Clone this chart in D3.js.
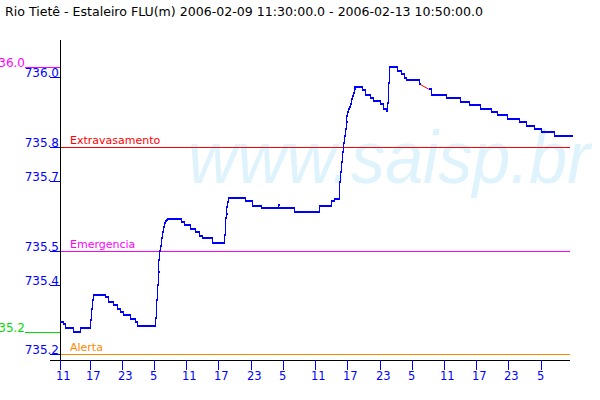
<!DOCTYPE html>
<html><head><meta charset="utf-8">
<script src="https://cdn.jsdelivr.net/npm/d3@7"></script>
<style>body{margin:0;background:#fff}svg{display:block}</style>
</head><body><svg id="c" width="600" height="400"></svg>
<script>
const titleText = "Rio Tietê - Estaleiro FLU(m) 2006-02-09 11:30:00.0 - 2006-02-13 10:50:00.0";
const watermarkText = "www.saisp.br";
const periodStart = "2006-02-09 11:30";
const periodEnd = "2006-02-13 10:50";
const yDomain = [735.184, 736.108];

const times = [
 "2006-02-09 11:30","2006-02-09 12:00","2006-02-09 12:30","2006-02-09 14:00","2006-02-09 15:10",
 "2006-02-09 17:10","2006-02-09 17:20","2006-02-09 17:30","2006-02-09 17:40","2006-02-09 19:50",
 "2006-02-09 20:30","2006-02-09 21:20","2006-02-09 22:10","2006-02-09 22:40","2006-02-09 23:10",
 "2006-02-10 00:30","2006-02-10 01:30","2006-02-10 01:50","2006-02-10 05:10","2006-02-10 05:20",
 "2006-02-10 05:30","2006-02-10 05:40","2006-02-10 05:50","2006-02-10 06:00","2006-02-10 06:10",
 "2006-02-10 06:20","2006-02-10 06:30","2006-02-10 06:40","2006-02-10 06:50","2006-02-10 07:00",
 "2006-02-10 07:10","2006-02-10 07:20","2006-02-10 10:00","2006-02-10 10:40","2006-02-10 11:40",
 "2006-02-10 12:40","2006-02-10 13:20","2006-02-10 14:00","2006-02-10 15:50","2006-02-10 18:00",
 "2006-02-10 18:10","2006-02-10 18:20","2006-02-10 18:30","2006-02-10 18:40","2006-02-10 18:50",
 "2006-02-10 22:00","2006-02-10 23:20","2006-02-11 00:50","2006-02-11 04:00","2006-02-11 04:10",
 "2006-02-11 07:00","2006-02-11 11:40","2006-02-11 14:00","2006-02-11 14:30","2006-02-11 15:30",
 "2006-02-11 15:40","2006-02-11 15:50","2006-02-11 16:00","2006-02-11 16:10","2006-02-11 16:20",
 "2006-02-11 16:30","2006-02-11 16:40","2006-02-11 16:50","2006-02-11 17:00","2006-02-11 17:10",
 "2006-02-11 17:20","2006-02-11 17:30","2006-02-11 17:40","2006-02-11 17:50","2006-02-11 18:00",
 "2006-02-11 18:10","2006-02-11 18:20","2006-02-11 19:40","2006-02-11 20:20","2006-02-11 21:10",
 "2006-02-11 21:50","2006-02-11 23:00","2006-02-11 23:40","2006-02-12 00:10","2006-02-12 00:20",
 "2006-02-12 00:30","2006-02-12 00:40","2006-02-12 02:20","2006-02-12 03:00","2006-02-12 03:30",
 "2006-02-12 04:00","2006-02-12 06:20","2006-02-12 08:10","2006-02-12 08:40","2006-02-12 11:20",
 "2006-02-12 14:00","2006-02-12 15:40","2006-02-12 17:40","2006-02-12 19:50","2006-02-12 20:50",
 "2006-02-12 22:40","2006-02-13 01:00","2006-02-13 02:20","2006-02-13 03:40","2006-02-13 05:00",
 "2006-02-13 07:30","2006-02-13 10:50"
];
const levels = [
 735.295,735.287,735.275,735.264,735.275,
 735.300,735.330,735.357,735.372,735.365,
 735.351,735.343,735.331,735.323,735.314,
 735.302,735.293,735.283,735.305,735.357,
 735.400,735.438,735.472,735.500,735.513,
 735.535,735.554,735.568,735.579,735.584,
 735.588,735.592,735.582,735.573,735.563,
 735.554,735.542,735.535,735.523,735.544,
 735.593,735.606,735.625,735.640,735.651,
 735.644,735.630,735.623,735.631,735.623,
 735.611,735.630,735.642,735.650,735.697,
 735.726,735.755,735.784,735.812,735.832,
 735.851,735.870,735.889,735.901,735.908,
 735.915,735.923,735.937,735.947,735.956,
 735.966,735.971,735.963,735.950,735.940,
 735.932,735.923,735.910,735.902,735.927,
 735.985,736.031,736.019,736.009,735.999,
 735.992,735.980,735.966,735.950,735.941,
 735.930,735.921,735.909,735.901,735.890,
 735.881,735.870,735.860,735.851,735.841,
 735.832,735.832
];
// segment starting at this time is a filled gap (drawn in red)
const gapStarts = ["2006-02-12 06:20"];

const thresholdNames = ["Extravasamento", "Emergencia", "Alerta"];
const thresholdValues = [735.8, 735.5, 735.2];
const thresholdColors = ["#ff0000", "#ff00ff", "#ff8800"];

const yTickValues = [736.0, 735.8, 735.7, 735.5, 735.4, 735.2];
const xTickTimes = ["2006-02-09 11:30","2006-02-09 17:00","2006-02-09 23:00","2006-02-10 05:00",
 "2006-02-10 11:00","2006-02-10 17:00","2006-02-10 23:00","2006-02-11 05:00","2006-02-11 11:00",
 "2006-02-11 17:00","2006-02-11 23:00","2006-02-12 05:00","2006-02-12 11:00","2006-02-12 17:00",
 "2006-02-12 23:00","2006-02-13 05:00"];

const parse = d3.timeParse("%Y-%m-%d %H:%M");
const pts = times.map((t, i) => ({t: parse(t), v: levels[i], gap: gapStarts.includes(t)}));

const svg = d3.select("#c");
const L = 60, R = 572, T = 40, B = 360;
const x = d3.scaleTime().domain([parse(periodStart), parse(periodEnd)]).range([L, R]);
const y = d3.scaleLinear().domain(yDomain).range([B, T]);
const BLUE = "#0000ff";
const FONT = "'DejaVu Sans', sans-serif";

svg.append("rect").attr("width", 600).attr("height", 400).attr("fill", "#fff");

// watermark
svg.append("text").attr("x", 188).attr("y", 183)
  .attr("font-family", "'Liberation Sans', Arial, sans-serif").attr("font-style", "italic")
  .attr("font-size", 74).attr("fill", "#dff3fc")
  .attr("textLength", 402).attr("lengthAdjust", "spacingAndGlyphs")
  .text(watermarkText);

// title
svg.append("text").attr("x", 5).attr("y", 16).attr("font-family", FONT).attr("font-size", 12)
  .attr("fill", "#000").attr("textLength", 478).attr("lengthAdjust", "spacingAndGlyphs")
  .text(titleText);

// thresholds
const thr = svg.append("g");
thresholdValues.forEach((v, i) => {
  const yy = Math.round(y(v)) + 0.5;
  thr.append("line").attr("x1", L).attr("x2", 570).attr("y1", yy).attr("y2", yy)
    .attr("stroke", thresholdColors[i]).attr("stroke-width", 1).attr("shape-rendering", "crispEdges");
  thr.append("text").attr("x", 70).attr("y", yy - 4).attr("font-family", FONT).attr("font-size", 11)
    .attr("fill", thresholdColors[i]).text(thresholdNames[i]);
});

// axes lines
svg.append("line").attr("x1", L + 0.5).attr("x2", L + 0.5).attr("y1", T).attr("y2", B + 0.5)
  .attr("stroke", "#000").attr("shape-rendering", "crispEdges");
svg.append("line").attr("x1", 50).attr("x2", 570).attr("y1", B + 0.5).attr("y2", B + 0.5)
  .attr("stroke", "#000").attr("shape-rendering", "crispEdges");

// y ticks
const fmt1 = d3.format(".1f");
const yt = svg.append("g");
yTickValues.forEach(v => {
  const yy = Math.round(y(v)) + 0.5;
  yt.append("line").attr("x1", 50).attr("x2", L).attr("y1", yy).attr("y2", yy).attr("stroke", BLUE)
    .attr("shape-rendering", "crispEdges");
  yt.append("text").attr("x", 59).attr("y", yy - 1).attr("text-anchor", "end")
    .attr("font-family", FONT).attr("font-size", 12).attr("fill", BLUE).text(fmt1(v));
});

// x ticks
const fmtH = d3.timeFormat("%-H");
const xt = svg.append("g");
xTickTimes.map(parse).forEach(t => {
  const xx = Math.round(x(t)) + 0.5;
  xt.append("line").attr("x1", xx).attr("x2", xx).attr("y1", B).attr("y2", B + 10).attr("stroke", BLUE)
    .attr("shape-rendering", "crispEdges");
  xt.append("text").attr("x", xx - 4.5).attr("y", 380).attr("font-family", FONT).attr("font-size", 11.5)
    .attr("fill", BLUE).text(fmtH(t));
});

// max / min markers (value truncated to one decimal)
const trunc1 = v => fmt1(Math.floor(v * 10 + 1e-9) / 10);
const vMax = d3.max(levels), vMin = d3.min(levels);
[[vMax, "#ff00ff"], [vMin, "#00dd00"]].forEach(([v, c]) => {
  const yy = Math.round(y(v)) + 0.5;
  svg.append("line").attr("x1", 25).attr("x2", L).attr("y1", yy).attr("y2", yy).attr("stroke", c)
    .attr("shape-rendering", "crispEdges");
  svg.append("text").attr("x", 25).attr("y", yy - 0.5).attr("text-anchor", "end")
    .attr("font-family", FONT).attr("font-size", 12).attr("fill", c).text(trunc1(v));
});

// series: thin step path + thick horizontal steps
const segs = d3.pairs(pts);
const g = svg.append("g").attr("shape-rendering", "crispEdges");
g.selectAll("path.v").data(segs.filter(([a]) => !a.gap)).join("path")
  .attr("d", ([a, b]) => d3.line().x(d => Math.round(x(d.t)) + 0.5).y(d => Math.round(y(d.v)))
    .curve(d3.curveStepAfter)([a, b]))
  .attr("fill", "none").attr("stroke", BLUE).attr("stroke-width", 1);
g.selectAll("line.gap").data(segs.filter(([a]) => a.gap)).join("line")
  .attr("x1", ([a]) => x(a.t) + 1).attr("y1", ([a]) => y(a.v))
  .attr("x2", ([, b]) => x(b.t)).attr("y2", ([, b]) => y(b.v))
  .attr("stroke", "#ff0000").attr("stroke-width", 1).attr("shape-rendering", "auto");
g.selectAll("rect.h").data(segs).join("rect")
  .attr("x", ([a]) => Math.round(x(a.t)))
  .attr("y", ([a]) => Math.round(y(a.v)) - 1)
  .attr("width", ([a, b]) => a.gap ? 2 : Math.max(2, Math.round(x(b.t)) - Math.round(x(a.t)) + 1))
  .attr("height", 2)
  .attr("fill", BLUE);
</script></body></html>
